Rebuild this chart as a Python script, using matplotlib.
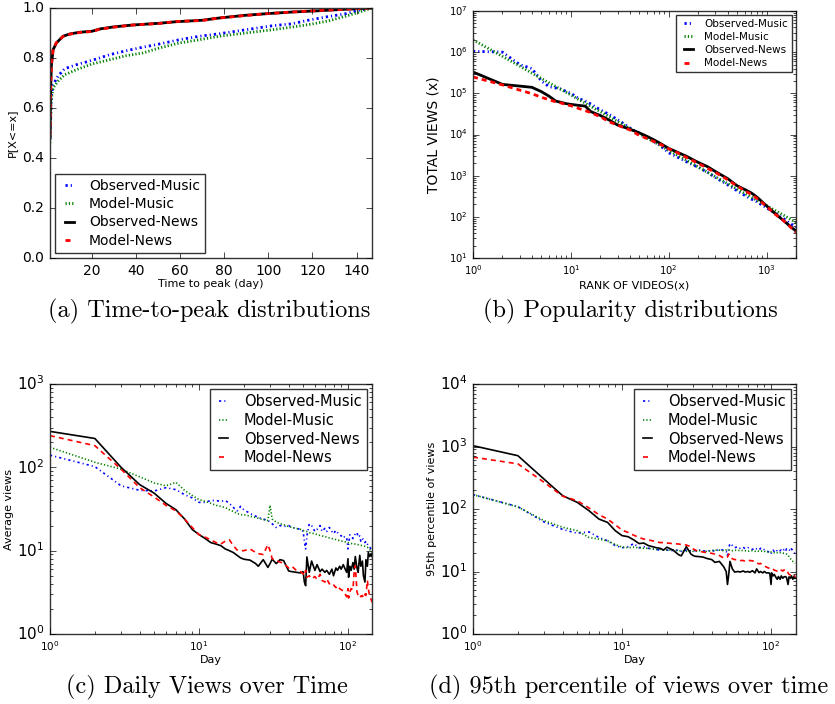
import matplotlib
matplotlib.use("Agg")
import matplotlib.pyplot as plt

plt.style.use("classic")
plt.rcParams["font.family"] = ["DejaVu Sans"]
plt.rcParams["mathtext.fontset"] = "dejavusans"
plt.rcParams["mathtext.default"] = "regular"
plt.rcParams["figure.facecolor"] = "white"
plt.rcParams["savefig.facecolor"] = "white"
plt.rcParams["lines.scale_dashes"] = False

labels = ["Observed-Music", "Model-Music", "Observed-News", "Model-News"]
colors = ["b", "g", "k", "r"]
styles = [(0, (1.6, 2.2, 0.8, 2.2)), (0, (0.9, 1.5)), "-", (0, (3.6, 2.9))]

# ---------------- (a) Time-to-peak CDF ----------------
ttp_obs_music_x = [1, 1.15, 1.6, 2.4, 4.6, 7.6, 12.9, 17.4, 22, 28, 35.5, 43, 50.6, 59.6, 68.7, 77.7, 89.8, 101.9, 110.9, 116.9, 126, 135, 141, 147]
ttp_obs_music_y = [0.48, 0.52, 0.647, 0.693, 0.727, 0.757, 0.773, 0.784, 0.796, 0.813, 0.829, 0.843, 0.856, 0.873, 0.887, 0.897, 0.913, 0.929, 0.937, 0.949, 0.964, 0.977, 0.991, 1.0]
ttp_model_music_x = [1, 1.15, 1.6, 2.4, 4.6, 7.6, 12.9, 20, 28, 35.5, 43, 50.6, 59.6, 68.7, 77.7, 89.8, 101.9, 110.9, 119.9, 127.4, 135, 141, 147]
ttp_model_music_y = [0.46, 0.50, 0.633, 0.68, 0.707, 0.733, 0.753, 0.776, 0.793, 0.809, 0.82, 0.84, 0.86, 0.873, 0.887, 0.90, 0.913, 0.924, 0.936, 0.949, 0.967, 0.983, 1.0]
ttp_obs_news_x = [1, 1.2, 1.6, 2.4, 3.9, 6.9, 9.9, 14.4, 20, 23.5, 29.5, 38.5, 50.6, 58, 70, 77.7, 89.8, 98.8, 110.9, 123, 135, 147]
ttp_obs_news_y = [0.48, 0.64, 0.767, 0.833, 0.86, 0.887, 0.896, 0.903, 0.907, 0.916, 0.924, 0.932, 0.939, 0.945, 0.951, 0.96, 0.971, 0.977, 0.984, 0.989, 0.995, 1.0]
ttp_model_news_x = [1, 1.2, 1.6, 2.4, 3.9, 6.9, 9.9, 14.4, 20, 23.5, 29.5, 38.5, 50.6, 58, 70, 77.7, 89.8, 98.8, 110.9, 123, 135, 147]
ttp_model_news_y = [0.49, 0.65, 0.77, 0.835, 0.862, 0.886, 0.895, 0.902, 0.906, 0.915, 0.923, 0.932, 0.938, 0.946, 0.95, 0.96, 0.97, 0.977, 0.984, 0.99, 0.995, 1.0]

# ---------------- (b) Popularity ----------------
ranks = [1, 2, 3, 4, 5, 6, 7, 8, 9, 10, 12, 14, 16, 18, 20, 25, 30, 35, 40, 50, 60, 70, 80, 100, 120, 150, 200, 250, 300, 400, 500, 600, 700, 800, 1000, 1200, 1500, 2000]
pop_obs_music = [1.05e6, 1.0e6, 5.0e5, 4.0e5, 2.0e5, 1.45e5, 1.35e5, 1.27e5, 1.1e5, 1.0e5, 7.5e4, 6.5e4, 5.5e4, 4.6e4, 4.0e4, 3.0e4, 2.3e4, 1.8e4, 1.45e4, 1.05e4, 8.5e3, 6.8e3, 5.6e3, 3.6e3, 2.9e3, 2.2e3, 1.6e3, 1.2e3, 900, 600, 430, 330, 270, 230, 165, 125, 90, 55]
pop_model_music = [2.0e6, 7.9e5, 4.6e5, 3.1e5, 2.3e5, 1.8e5, 1.47e5, 1.22e5, 1.05e5, 9.1e4, 7.1e4, 5.8e4, 4.8e4, 4.1e4, 3.6e4, 2.65e4, 2.07e4, 1.69e4, 1.41e4, 1.05e4, 8.2e3, 6.7e3, 5.6e3, 4.1e3, 3.2e3, 2.4e3, 1.63e3, 1.2e3, 940, 640, 474, 370, 300, 250, 187, 147, 109, 73]
pop_obs_news = [3.3e5, 1.65e5, 1.5e5, 1.4e5, 1.1e5, 8.5e4, 6.5e4, 6.0e4, 5.6e4, 5.4e4, 5.1e4, 4.9e4, 3.6e4, 3.2e4, 2.9e4, 2.2e4, 1.7e4, 1.5e4, 1.35e4, 1.1e4, 9e3, 7.5e3, 6.3e3, 4.6e3, 3.8e3, 3.0e3, 2.1e3, 1.65e3, 1.26e3, 850, 570, 460, 380, 300, 185, 125, 80, 45]
pop_model_news = [2.5e5, 1.6e5, 1.2e5, 9.8e4, 8.0e4, 7.0e4, 6.2e4, 5.8e4, 5.3e4, 5.0e4, 4.3e4, 3.8e4, 3.4e4, 3.0e4, 2.7e4, 2.0e4, 1.7e4, 1.45e4, 1.3e4, 9.5e3, 8e3, 6.8e3, 6e3, 4.5e3, 3.7e3, 2.8e3, 2.0e3, 1.5e3, 1.2e3, 800, 560, 430, 350, 280, 180, 120, 80, 42]

# ---------------- (c), (d) daily series ----------------
days = [1, 2, 3, 4, 5, 6, 7, 8, 9, 10, 11, 12, 13, 14, 15, 16, 17, 18, 19, 20, 22, 24, 25, 27, 29, 30, 31, 33, 35, 37, 40, 42, 45, 48, 50, 51, 52, 53, 55, 57, 60, 62, 65, 67, 70, 72, 75, 78, 80, 83, 85, 88, 90, 93, 95, 98, 100, 101, 103, 105, 108, 110, 112, 115, 117, 120, 122, 125, 127, 130, 132, 135, 137, 140, 143, 145]

avg_obs_music = [140, 102, 60, 53, 52, 57, 54, 47, 43, 38, 38, 40, 40, 39, 40, 37, 33, 30, 34, 31, 28, 26, 25, 24, 23, 22, 21, 19, 20, 19.5, 20, 19, 18.5, 18, 17, 13, 10.5, 15, 21, 20, 17, 18, 20, 17, 18.5, 17, 19, 17, 16, 17.5, 16.5, 15.5, 15, 15.5, 14.5, 14.5, 10.5, 12, 15.5, 15, 14, 15, 16, 16.5, 14.5, 15, 13, 14, 13.5, 12.5, 13, 12, 11.5, 11, 10.5, 10]
avg_model_music = [174, 115, 95, 77, 65, 60, 66, 53, 46, 41, 39, 37, 35, 34, 33, 31, 29.5, 28, 27, 27, 26, 25, 24.5, 23.5, 23, 35, 24, 22, 21, 20.5, 19.5, 19, 18.5, 18, 17.5, 17.2, 17, 17, 16.5, 16.2, 16, 15.6, 15.2, 15, 14.8, 14.5, 14.2, 14, 13.8, 13.6, 13.4, 13.2, 13, 13, 12.8, 12.6, 12.5, 12.4, 12.3, 12.2, 12.1, 12, 12, 11.9, 11.8, 11.7, 11.6, 11.5, 11.4, 11.3, 11.2, 11, 10.7, 10.3, 10, 9.5]
avg_obs_news = [270, 222, 100, 62, 49, 37, 31, 24, 18, 15.6, 14, 12.5, 12, 11.5, 10.5, 10, 9.5, 8.8, 8.2, 7.9, 7.7, 7.0, 6.5, 7.8, 6.3, 7.0, 7.9, 7.0, 7.8, 7.6, 5.7, 5.6, 5.5, 5.4, 5.6, 4.2, 3.8, 8.4, 5.5, 7.5, 5.8, 6.8, 5.6, 6.0, 5.5, 5.8, 5.2, 6.0, 5.0, 6.2, 5.8, 6.5, 6.0, 6.8, 6.2, 5.5, 8.0, 4.8, 6.5, 5.8, 7.2, 6.0, 8.5, 6.2, 5.5, 8.8, 6.5, 7.5, 5.0, 4.2, 7.8, 6.5, 9.5, 8.5, 9.2, 8.5]
avg_model_news = [240, 182, 95, 57, 44, 35, 30, 24, 19, 15.6, 14.5, 13.5, 12.5, 12, 13.0, 13.5, 11.5, 10.2, 10.0, 10.0, 10.5, 9.5, 9.2, 9.0, 11.8, 10.0, 8.0, 7.6, 7.3, 7.0, 6.2, 6.5, 5.8, 5.6, 5.3, 5.0, 5.8, 4.8, 5.0, 4.6, 4.9, 4.5, 5.2, 4.4, 4.2, 4.6, 4.0, 4.1, 3.9, 3.6, 3.8, 3.5, 3.4, 3.3, 3.1, 2.8, 3.5, 2.7, 3.2, 3.5, 3.4, 5.5, 6.6, 3.2, 2.9, 3.0, 2.8, 2.9, 2.7, 3.0, 2.9, 4.4, 3.5, 2.8, 2.6, 2.4]

p95_obs_music = [170, 109, 62, 47, 41, 43, 35, 31, 26, 24, 25, 28, 24, 25, 23.5, 23, 22.5, 22, 22.5, 22, 21.5, 22, 21, 22, 21.5, 22, 21.5, 22, 21.5, 21, 22, 21, 22.5, 22, 21, 18, 24, 28, 26, 24, 25, 23.5, 24.5, 23, 24, 23.5, 22.5, 24, 23, 22, 23.5, 22, 22.5, 21.5, 21, 20, 19, 21, 22, 21, 22.5, 21, 22, 21.5, 22, 21, 22.5, 21, 23, 22, 22.5, 21, 23, 21.5, 20, 19]
p95_model_music = [170, 108, 65, 51, 45, 35, 33, 31, 27, 24.5, 24, 24.5, 24, 23.5, 23.5, 23, 22.5, 22.5, 22, 22, 22, 21.5, 21.5, 21, 21.5, 21, 21, 21.5, 21, 21, 21.5, 22, 22, 21.5, 22, 21.5, 22, 22, 21.5, 22, 21.5, 22, 21.5, 21.5, 21, 21.5, 21.5, 21, 21.5, 21, 21, 21.5, 21, 21, 20.5, 21, 20.5, 20.5, 20.5, 20, 20.5, 20, 20.5, 20, 20, 20, 19.5, 19.5, 19, 18.5, 17, 16, 15, 14.5, 14, 13.5]
p95_obs_news = [1030, 713, 300, 163, 128, 94, 69, 61, 45, 37.5, 36, 32, 28, 28.5, 26, 25, 24, 23.5, 22, 24.5, 22, 18.5, 17.8, 25, 19, 18, 17.5, 17.3, 17, 16.2, 15.5, 14, 14.5, 12, 10, 6.2, 9, 14.5, 11, 9.8, 10, 9.8, 10.2, 9.8, 10, 9.7, 10.3, 9.5, 11, 9.6, 10, 9.5, 10, 9.5, 9.5, 9.4, 6.2, 9.5, 8.5, 9, 8, 7.5, 8.3, 7.5, 8.5, 7.8, 8.2, 8.3, 8, 6.2, 8.2, 7.8, 8.5, 7.5, 8.5, 7.8]
p95_model_news = [676, 528, 267, 160, 136, 104, 81, 69, 56, 46, 42, 38, 35, 33, 32, 31, 30, 29, 29, 28.5, 28, 27.5, 27, 26.5, 25, 23, 22, 21, 20.5, 20, 19.5, 19, 18, 16.5, 16.5, 17, 19, 17, 16, 15.5, 15.5, 15, 15, 14.5, 14.8, 15, 14.8, 14.5, 13.8, 13.2, 13.5, 12.5, 12.2, 11.8, 11.5, 11.2, 11, 10.8, 11, 10.5, 10.3, 10.2, 10.4, 10, 10.5, 10.2, 10.6, 10.4, 10.6, 9.5, 9, 8.8, 9, 8.5, 8.6, 8.2]

W, H = 835, 704
fig = plt.figure(figsize=(W / 100, H / 100), dpi=100)


def rect(x0, y0, x1, y1):
    return [x0 / W, 1 - y1 / H, (x1 - x0) / W, (y1 - y0) / H]


def style_ax(ax, xsize, ysize):
    ax.tick_params(axis="x", which="both", labelsize=xsize, direction="in", top=True, bottom=True)
    ax.tick_params(axis="y", which="both", labelsize=ysize, direction="in", left=True, right=True)
    ax.tick_params(which="major", length=4, width=0.5)
    ax.tick_params(which="minor", length=2, width=0.5)
    for s in ax.spines.values():
        s.set_linewidth(1.0)
        s.set_color("#333333")


leg_kw = dict(fancybox=False, edgecolor="#333333", handletextpad=0.8)

# (a)
axa = fig.add_axes(rect(50, 8, 372, 258))
series_a = [(ttp_obs_music_x, ttp_obs_music_y), (ttp_model_music_x, ttp_model_music_y),
            (ttp_obs_news_x, ttp_obs_news_y), (ttp_model_news_x, ttp_model_news_y)]
for (xs, ys), lab, c, ls in zip(series_a, labels, colors, styles):
    axa.plot(xs, ys, color=c, linestyle=ls, lw=2, label=lab)
axa.set_xlim(1, 147)
axa.set_ylim(0, 1)
axa.set_xticks([20, 40, 60, 80, 100, 120, 140])
axa.set_yticks([0.0, 0.2, 0.4, 0.6, 0.8, 1.0])
axa.set_xlabel("Time to peak (day)", fontsize=8, labelpad=1)
axa.set_ylabel("P[X<=x]", fontsize=8, labelpad=4)
style_ax(axa, 10, 10)
axa.legend(loc="lower left", fontsize=10, handlelength=1.25, labelspacing=0.3,
           borderaxespad=0.35, borderpad=0.4, **leg_kw)

# (b)
axb = fig.add_axes(rect(473, 11, 796, 258))
series_b = [pop_obs_music, pop_model_music, pop_obs_news, pop_model_news]
for ys, lab, c, ls in zip(series_b, labels, colors, styles):
    axb.plot(ranks, ys, color=c, linestyle=ls, lw=2, label=lab)
axb.set_xscale("log")
axb.set_yscale("log")
axb.set_xlim(1, 2000)
axb.set_ylim(10, 1e7)
axb.set_xlabel("RANK OF VIDEOS(x)", fontsize=8, labelpad=2)
axb.set_ylabel("TOTAL VIEWS (x)", fontsize=10, labelpad=6)
style_ax(axb, 7.2, 7.2)
axb.legend(loc="upper right", fontsize=7.5, handlelength=1.5, labelspacing=0.3,
           borderaxespad=0.35, borderpad=0.4, **leg_kw)

# (c)
axc = fig.add_axes(rect(50, 384, 372, 634))
series_c = [avg_obs_music, avg_model_music, avg_obs_news, avg_model_news]
for ys, lab, c, ls in zip(series_c, labels, colors, styles):
    axc.plot(days, ys, color=c, linestyle=ls, lw=1.2, label=lab)
axc.set_xscale("log")
axc.set_yscale("log")
axc.set_xlim(1, 145)
axc.set_ylim(1, 1000)
axc.set_xlabel("Day", fontsize=8, labelpad=1)
axc.set_ylabel("Average views", fontsize=8, labelpad=2)
style_ax(axc, 7.5, 11)
axc.legend(loc="upper right", fontsize=10.5, handlelength=1.2, labelspacing=0.25,
           borderaxespad=0.35, borderpad=0.35, **leg_kw)

# (d)
axd = fig.add_axes(rect(473, 384, 796, 634))
series_d = [p95_obs_music, p95_model_music, p95_obs_news, p95_model_news]
for ys, lab, c, ls in zip(series_d, labels, colors, styles):
    axd.plot(days, ys, color=c, linestyle=ls, lw=1.2, label=lab)
axd.set_xscale("log")
axd.set_yscale("log")
axd.set_xlim(1, 147)
axd.set_ylim(1, 1e4)
axd.set_xlabel("Day", fontsize=8, labelpad=1)
axd.set_ylabel("95th percentile of views", fontsize=8, labelpad=2)
style_ax(axd, 7.5, 11)
axd.legend(loc="upper right", fontsize=10.5, handlelength=1.2, labelspacing=0.25,
           borderaxespad=0.35, borderpad=0.35, **leg_kw)

cap_kw = dict(family="cmr10", fontsize=17.5, ha="center", va="center")
fig.text(209 / W, 1 - 311 / H, "(a) Time-to-peak distributions", **cap_kw)
fig.text(630 / W, 1 - 311 / H, "(b) Popularity distributions", **cap_kw)
fig.text(207 / W, 1 - 687 / H, "(c) Daily Views over Time", **cap_kw)
fig.text(629 / W, 1 - 687 / H, "(d) 95th percentile of views over time", **cap_kw)

fig.savefig("out.png", dpi=100)
